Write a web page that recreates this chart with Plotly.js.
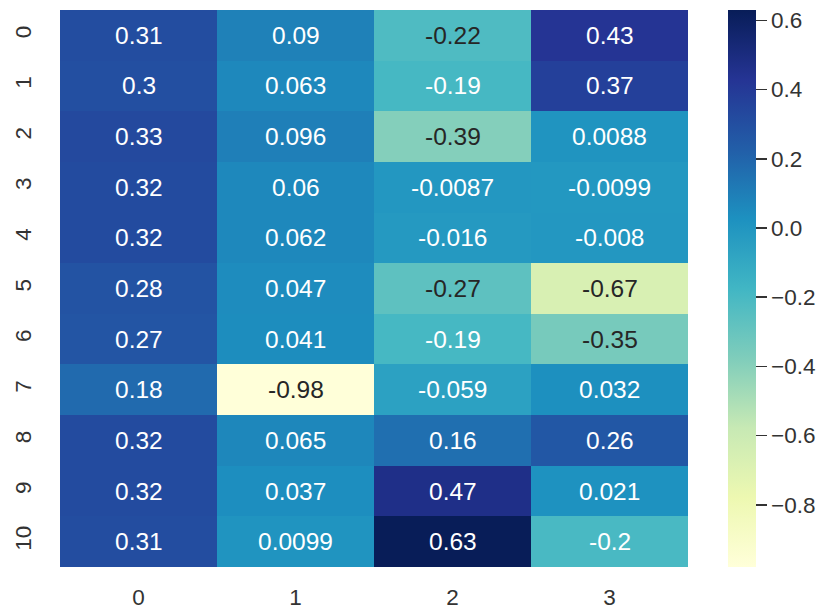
<!DOCTYPE html>
<html>
<head>
<meta charset="utf-8">
<script src="https://cdn.plot.ly/plotly-3.0.1.min.js"></script>
<style>html,body{margin:0;padding:0;background:#fff;}#chart{width:828px;height:609px;}</style>
</head>
<body>
<div id="chart"></div>
<script>
var xLabels = ["0", "1", "2", "3"];
var yLabels = ["0", "1", "2", "3", "4", "5", "6", "7", "8", "9", "10"];
var col0 = [0.31, 0.3, 0.33, 0.32, 0.32, 0.28, 0.27, 0.18, 0.32, 0.32, 0.31];
var col1 = [0.09, 0.063, 0.096, 0.06, 0.062, 0.047, 0.041, -0.98, 0.065, 0.037, 0.0099];
var col2 = [-0.22, -0.19, -0.39, -0.0087, -0.016, -0.27, -0.19, -0.059, 0.16, 0.47, 0.63];
var col3 = [0.43, 0.37, 0.0088, -0.0099, -0.008, -0.67, -0.35, 0.032, 0.26, 0.021, -0.2];

var cols = [col0, col1, col2, col3];
var z = yLabels.map(function(_, i){ return cols.map(function(c){ return c[i]; }); });

var ylgnbu = ["#ffffd9","#edf8b1","#c7e9b4","#7fcdbb","#41b6c4","#1d91c0","#225ea8","#253494","#081d58"];
var colorscale = ylgnbu.map(function(c, i){ return [i/(ylgnbu.length-1), c]; });

var all = [].concat(col0, col1, col2, col3);
var zmin = Math.min.apply(null, all), zmax = Math.max.apply(null, all);

function hex2rgb(h){ return [parseInt(h.substr(1,2),16), parseInt(h.substr(3,2),16), parseInt(h.substr(5,2),16)]; }
function colorAt(v){
  var t = (v - zmin)/(zmax - zmin);
  t = Math.max(0, Math.min(1, t));
  var p = t*(ylgnbu.length-1);
  var i = Math.min(Math.floor(p), ylgnbu.length-2);
  var f = p - i;
  var a = hex2rgb(ylgnbu[i]), b = hex2rgb(ylgnbu[i+1]);
  return [0,1,2].map(function(k){ return a[k] + (b[k]-a[k])*f; });
}
function lum(rgb){
  var l = rgb.map(function(c){ c/=255; return c <= 0.03928 ? c/12.92 : Math.pow((c+0.055)/1.055, 2.4); });
  return 0.2126*l[0] + 0.7152*l[1] + 0.0722*l[2];
}
function fmt(v){ return String(Number(v.toPrecision(2))); }

var FONT = 'Liberation Sans, Arial, sans-serif';
var annotations = [];
yLabels.forEach(function(yl, i){
  xLabels.forEach(function(xl, j){
    var v = z[i][j];
    annotations.push({
      x: xl, y: yl, xref: 'x', yref: 'y', text: fmt(v), showarrow: false,
      font: {family: FONT, size: 24.5,
             color: lum(colorAt(v)) > 0.408 ? '#262626' : '#ffffff'}
    });
  });
});

var trace = {
  type: 'heatmap', x: xLabels, y: yLabels, z: z,
  colorscale: colorscale, zmin: zmin, zmax: zmax, hoverinfo: 'skip',
  colorbar: {
    thickness: 28, thicknessmode: 'pixels', len: 1, lenmode: 'fraction',
    x: 1.0637, xanchor: 'left', y: 0, yanchor: 'bottom', xpad: 0, ypad: 0,
    outlinewidth: 0, ticks: 'outside', ticklen: 11, tickwidth: 1.6, tickcolor: '#333333',
    tick0: 0, dtick: 0.2, tickformat: '.1f',
    tickfont: {family: FONT, size: 22.5, color: '#333333'}
  }
};

var layout = {
  width: 828, height: 609,
  margin: {l: 60, r: 140, t: 10, b: 42},
  paper_bgcolor: '#ffffff', plot_bgcolor: '#ffffff',
  xaxis: {type: 'category', showgrid: false, zeroline: false, ticks: '', showline: false,
          ticklabelstandoff: 14,
          tickfont: {family: FONT, size: 22.5, color: '#333333'}},
  yaxis: {type: 'category', autorange: 'reversed', showgrid: false, zeroline: false, ticks: '', showline: false,
          tickangle: -90, ticklabelstandoff: 24,
          tickfont: {family: FONT, size: 22.5, color: '#333333'}},
  annotations: annotations,
  showlegend: false
};

Plotly.newPlot('chart', [trace], layout, {displayModeBar: false, staticPlot: true});
</script>
</body>
</html>
